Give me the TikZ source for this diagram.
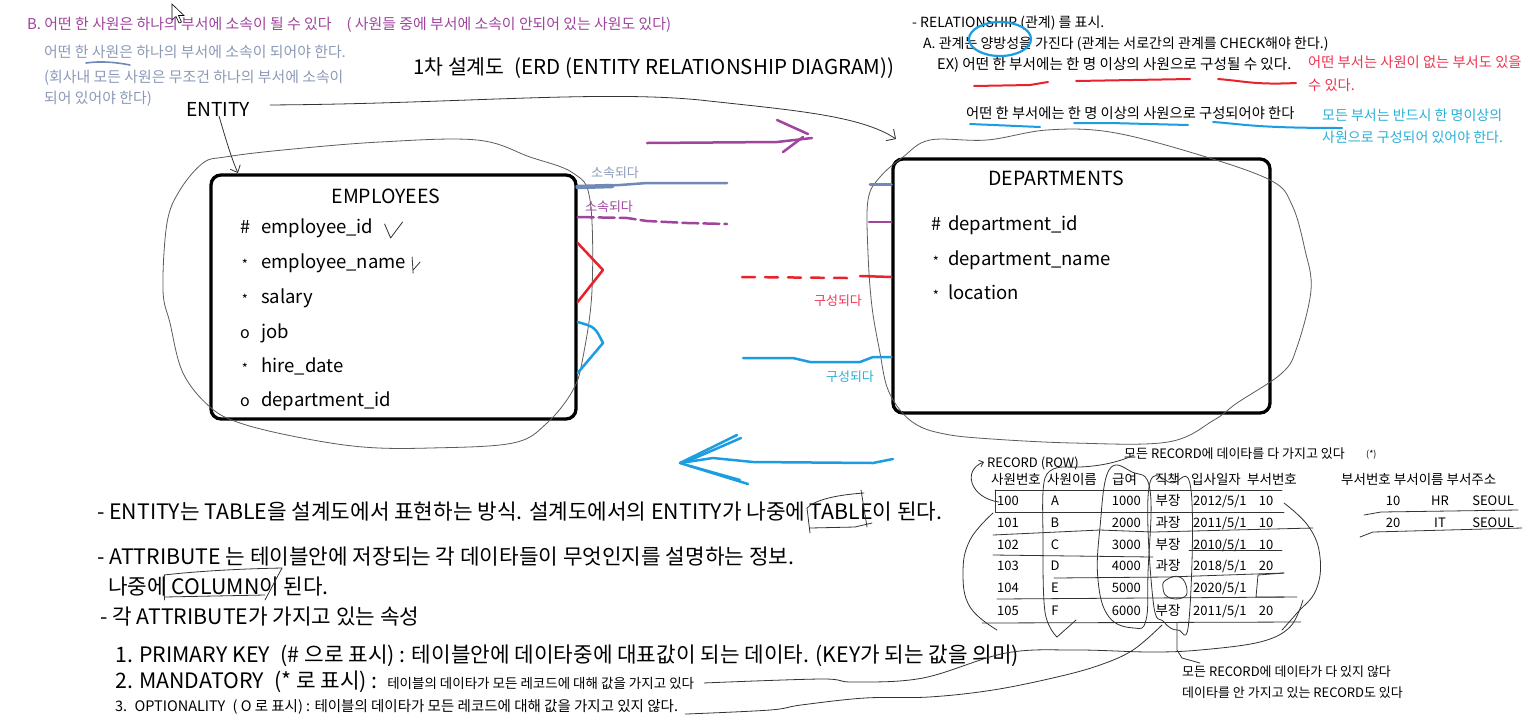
\documentclass[tikz,border=0pt]{standalone}
\usepackage{fontspec}
\setmainfont{Noto Sans CJK KR}
\usepackage{tikz}
\usetikzlibrary{arrows.meta, positioning}

\definecolor{purp}{HTML}{A0449E}
\definecolor{steel}{HTML}{7089B6}
\definecolor{steeltxt}{HTML}{8C9AB8}
\definecolor{redpen}{HTML}{E8232B}
\definecolor{redtxt}{HTML}{F03450}
\definecolor{bluepen}{HTML}{1B9DE2}
\definecolor{cyantxt}{HTML}{2AB0D6}
\definecolor{ink}{HTML}{333333}

\newcommand\fsz[1]{\fontsize{#1}{#1}\selectfont}
\newcommand\attrPK{\fsz{18}\#}
\newcommand\attrMand{\raisebox{-1.5pt}{\fsz{13}*}}
\newcommand\attrOpt{\fsz{16}o}

\begin{document}
\begin{tikzpicture}[x=1pt, y=-1pt,
    txt/.style = {anchor=base west, inner sep=0pt, font=\fsz{#1}},
    mtxt/.style = {anchor=base, inner sep=0pt, font=\fsz{#1}},
    etxt/.style = {anchor=base east, inner sep=0pt, font=\fsz{#1}},
    entity box/.style = {draw=black, line width=3.3pt, rounded corners=10pt},
    hand/.style = {draw=ink, line width=0.8pt, line cap=round, line join=round},
    pen/.style = {line width=2.5pt, line cap=round, line join=round}
]
\fill[white] (0,0) rectangle (1533,724);
\useasboundingbox (0,0) rectangle (1533,724);

% mouse pointer
\draw[line width=0.6pt, fill=white] (172,4) -- (172,20) -- (176,16.5) -- (179,23) -- (181.5,22) -- (178.5,15.5) -- (184,15.5) -- cycle;

% notes, top left
\node[txt=14.9, text=purp] (noteB) at (27,29) {B. 어떤 한 사원은 하나의 부서에 소속이 될 수 있다\quad( 사원들 중에 부서에 소속이 안되어 있는 사원도 있다)};
\node[txt=14.9, text=steeltxt] (noteB1) at (44,57) {어떤 한 사원은 하나의 부서에 소속이 되어야 한다.};
\node[txt=14.9, text=steeltxt] (noteB2) at (44,82) {(회사내 모든 사원은 무조건 하나의 부서에 소속이};
\node[txt=14.9, text=steeltxt] (noteB3) at (44,103) {되어 있어야 한다)};
\draw[steel, line width=1.6pt, line cap=round] (86,63) .. controls (100,61) and (115,62) .. (130,65);

% title
\node[txt=20.5] (title) at (413,74) {1차 설계도\enspace(ERD (ENTITY RELATIONSHIP DIAGRAM))};
\node[txt=19.2] (entity) at (186,116) {ENTITY};

% notes, top right
\node[txt=14] (relNote) at (912,27) {- RELATIONSHIP (관계) 를 표시.};
\node[txt=14] (relA) at (923,48) {A. 관계는 양방성을 가진다 (관계는 서로간의 관계를 CHECK해야 한다.)};
\node[txt=14.6] (relEx) at (937,69) {EX) 어떤 한 부서에는 한 명 이상의 사원으로 구성될 수 있다.};
\node[txt=14.3, text=redtxt] (redNote1) at (1308,67) {어떤 부서는 사원이 없는 부서도 있을};
\node[txt=14.3, text=redtxt] (redNote2) at (1308,90) {수 있다.};
\node[txt=14.3] (relMust) at (966,118) {어떤 한 부서에는 한 명 이상의 사원으로 구성되어야 한다};
\node[txt=14, text=cyantxt] (cyNote1) at (1322,120) {모든 부서는 반드시 한 명이상의};
\node[txt=14, text=cyantxt] (cyNote2) at (1322,142) {사원으로 구성되어 있어야 한다.};
\draw[bluepen, line width=2.2pt] (1000,39) ellipse [x radius=31pt, y radius=17pt];
\draw[pen, redpen, line width=2pt] (974,86) -- (1030,85) -- (1048,82);
\draw[pen, redpen, line width=2pt] (1076,81) -- (1190,79);
\draw[pen, redpen, line width=2pt] (1218,79) .. controls (1244,81) and (1254,85) .. (1296,83);
\draw[pen, bluepen, line width=2pt] (970,124) -- (1040,127);
\draw[pen, bluepen, line width=2pt] (1074,123) -- (1110,123) -- (1188,125);
\draw[pen, bluepen, line width=2pt] (1213,122) .. controls (1243,124) and (1253,128) .. (1342,128);

% entities
\node[entity box, minimum width=365pt, minimum height=244pt] (emp) at (393.5,297) {};
\node[mtxt=19.5] (empName) at (386,203) {EMPLOYEES};
\foreach \sym/\nm/\yy [count=\k] in {\attrPK/employee\_id/233, \attrMand/employee\_name/268,
    \attrMand/salary/303, \attrOpt/job/338, \attrMand/hire\_date/372, \attrOpt/department\_id/406}{
  \node[mtxt=18] (empSym\k) at (245,\yy) {\sym};
  \node[txt=18.5] (empAttr\k) at (261,\yy) {\nm};
}
\draw[hand] ([shift={(11,-9)}]empAttr1.base east) -- ([shift={(17,5)}]empAttr1.base east) -- ([shift={(29,-11)}]empAttr1.base east);
\draw[hand] ([shift={(6,-11)}]empAttr2.base east) -- ([shift={(7,5)}]empAttr2.base east);
\draw[hand] ([shift={(7,2)}]empAttr2.base east) -- ([shift={(14,-6)}]empAttr2.base east);

\node[entity box, minimum width=377pt, minimum height=254pt] (dept) at (1081.5,286) {};
\node[mtxt=19.5] (deptName) at (1056,185) {DEPARTMENTS};
\foreach \sym/\nm/\yy [count=\k] in {\attrPK/department\_id/230, \attrMand/department\_name/265,
    \attrMand/location/299}{
  \node[mtxt=18] (deptSym\k) at (936,\yy) {\sym};
  \node[txt=18.5] (deptAttr\k) at (948,\yy) {\nm};
}

% outlines drawn round the entities
\draw[hand, draw=ink!80] plot[smooth cycle, tension=0.6] coordinates {(225,157) (283,150) (380,142) (477,140)
  (530,157) (573,173) (590,200) (592,290) (583,357) (573,390) (547,423) (513,443) (430,448) (363,447)
  (297,437) (240,423) (210,407) (183,373) (170,323) (163,290) (167,223) (180,190) (203,163)};
\draw[hand, draw=ink!80] plot[smooth cycle, tension=0.6] coordinates {(903,157) (930,140) (987,140) (1047,130)
  (1110,132) (1193,153) (1270,180) (1292,205) (1305,250) (1311,290) (1297,347) (1282,373) (1237,403)
  (1214,420) (1168,442) (1073,443) (978,438) (940,433) (917,425) (900,410) (887,387) (880,353)
  (872,307) (868,253) (868,200) (880,177)};

% ENTITY pointers
\draw[hand, -{Straight Barb[length=6pt, width=11pt]}] ([xshift=1pt]entity.south) .. controls (226,140) and (232,160) .. (238,173);
\draw[hand, -{Straight Barb[length=7pt, width=14pt]}] ([xshift=20pt, yshift=4pt]entity.east)
  .. controls (450,104) and (600,90) .. (700,100) .. controls (790,110) and (860,115) .. (896,139);

% relationship marks
\coordinate (steelEnd) at (727,183);
\draw[pen, steel] ([yshift=110pt]emp.east) -- (620,185) -- (647,183) -- (steelEnd);
\draw[steel, line width=4.5pt, line cap=round] ([yshift=110pt]emp.east) -- (612,186);
\draw[pen, steel, line width=3pt] (870,184) -- ([yshift=102pt]dept.west);
\node[mtxt=13, text=steeltxt] (belong1) at (615,177) {소속되다};

\coordinate (purpEnd) at (727,224);
\draw[pen, purp, dash pattern=on 16pt off 5pt] ([yshift=80pt]emp.east) -- (627,218) -- (647,221) -- (687,223) -- (purpEnd);
\draw[pen, purp] (869,222) -- ([yshift=64pt]dept.west);
\node[mtxt=13, text=purp] (belong2) at (609,211) {소속되다};

\draw[pen, redpen] ([yshift=54pt]emp.east) -- (603,270) -- ([yshift=-5pt]emp.east);
\draw[pen, redpen, dash pattern=on 13pt off 10pt] (742,277) -- (847,278);
\draw[pen, redpen] (860,276) -- ([yshift=9pt]dept.west);
\node[mtxt=13, text=redtxt] (consist1) at (838,305) {구성되다};

\draw[pen, bluepen] ([yshift=-25pt]emp.east) .. controls (595,327) .. (603,343) -- ([yshift=-76pt]emp.east);
\draw[pen, bluepen] (743,358) -- (793,358) -- (810,362) -- (860,362) -- (873,357) -- ([yshift=-71pt]dept.west);
\node[mtxt=13, text=cyantxt] (consist2) at (850,381) {구성되다};

% direction arrows
\coordinate (purpTip) at (812,138);
\draw[pen, purp] (647,143) -- (777,142) -- (purpTip);
\draw[pen, purp] (777,120) -- (808,134);
\draw[pen, purp] (783,152) -- (803,137);
\coordinate (blueTip) at (680,463);
\draw[pen, bluepen] (893,459) -- (873,463) -- (753,462) -- (713,458) -- (blueTip);
\draw[pen, bluepen] (blueTip) -- (737,435);
\draw[pen, bluepen] (688,461) -- (741,438);
\draw[pen, bluepen] (blueTip) -- (748,484);
\draw[pen, bluepen] (690,466) -- (740,480);

% record table
\node[txt=13] (allData) at (1124,458) {모든 RECORD에 데이타를 다 가지고 있다};
\node[txt=9] (allMark) at (1366,457) {(*)};
\node[txt=13] (recRow) at (987,467) {RECORD (ROW)};
\foreach \h/\xx [count=\k] in {사원번호/991, 사원이름/1047, 급여/1112, 직책/1155, 입사일자/1191, 부서번호/1247}{
  \node[txt=13.5] (head\k) at (\xx,484) {\h};
}
\foreach \id/\nm/\sal/\job/\dt/\dn/\yy [count=\k] in {100/A/1000/부장/{2012/5/1}/10/505,
    101/B/2000/과장/{2011/5/1}/10/527, 102/C/3000/부장/{2010/5/1}/10/549,
    103/D/4000/과장/{2018/5/1}/20/570, 104/E/5000/{}/{2020/5/1}/{}/592, 105/F/6000/부장/{2011/5/1}/20/615}{
  \node[txt=13] (rId\k) at (997,\yy) {\id};
  \node[mtxt=13] (rNm\k) at (1055,\yy) {\nm};
  \node[etxt=13] (rSal\k) at (1141,\yy) {\sal};
  \node[mtxt=13.5] (rJob\k) at (1168,\yy) {\job};
  \node[txt=13] (rDt\k) at (1193,\yy) {\dt};
  \node[mtxt=13] (rDn\k) at (1266,\yy) {\dn};
}
\node[txt=13.5] (dHead) at (1341,484) {부서번호 부서이름 부서주소};
\foreach \no/\nm/\yy [count=\k] in {10/HR/505, 20/IT/527}{
  \node[mtxt=13] (dNo\k) at (1393,\yy) {\no};
  \node[mtxt=13] (dNm\k) at (1440,\yy) {\nm};
  \node[etxt=13] (dAd\k) at (1514,\yy) {SEOUL};
}
\draw[hand] (1364,515) -- (1381,512) -- (1518,510);
\draw[hand] (1360,537) -- (1373,532) -- (1522,528);

% marks on the table
\draw[hand, -{Straight Barb[length=4pt, width=7pt]}] (999,502) .. controls (970,498) and (962,470) .. (984,462);
\draw[hand] (995,490) -- (1282,490);
\draw[hand] (995,490) -- (995,512) -- (1284,512);
\draw[hand] (993,535) -- (1100,530) -- (1153,532) -- (1313,528);
\draw[hand] (993,555) -- (1153,557);
\draw[hand] (1189,550) -- (1282,550);
\draw[hand] (1054,578) -- (1168,577) -- (1284,573);
\draw[hand] (997,599) -- (1297,597);
\draw[hand] (982,623) -- (1301,622);
\draw[hand] plot[smooth, tension=0.6] coordinates {(1065,467) (1045,478) (1043,540) (1045,612) (1057,637)};
\draw[hand] (1057,637) -- (1076,620);
\draw[hand] plot[smooth cycle, tension=0.7] coordinates {(1109,470) (1100,527) (1098,580) (1109,617) (1134,628)
  (1146,620) (1148,573) (1150,490) (1132,472)};
\draw[hand] plot[smooth cycle, tension=0.7] coordinates {(1149,487) (1153,600) (1164,622) (1178,630) (1189,620)
  (1191,490) (1172,483)};
\draw[hand] plot[smooth cycle, tension=0.8] coordinates {(1166,580) (1180,577) (1187,590) (1182,598) (1168,597) (1163,588)};
\draw[hand] (1284,573) -- (1258,575) -- (1256,597) -- (1284,597);
\draw[hand] (1134,455) .. controls (1115,464) and (1090,468) .. (1065,467);
\draw[hand] plot[smooth, tension=0.7] coordinates {(993,513) (970,540) (963,573) (970,607) (997,630)};
\draw[hand] plot[smooth, tension=0.7] coordinates {(1284,503) (1309,527) (1320,557) (1316,590) (1297,613) (1282,630)};

% text below
\node[txt=21.3] (entityDef) at (97,519) {- ENTITY는 TABLE을 설계도에서 표현하는 방식. 설계도에서의 ENTITY가 나중에 TABLE이 된다.};
\node[txt=21.3] (attrDef) at (97,564) {- ATTRIBUTE 는 테이블안에 저장되는 각 데이타들이 무엇인지를 설명하는 정보.};
\node[txt=21.3] (attrDef2) at (108,594) {나중에 COLUMN이 된다.};
\node[txt=21.3] (attrKind) at (100,624) {- 각 ATTRIBUTE가 가지고 있는 속성};
\node[txt=21.3] (pkDef) at (115,662) {1. PRIMARY KEY\enspace(\# 으로 표시) : 테이블안에 데이타중에 대표값이 되는 데이타. (KEY가 되는 값을 의미)};
\node[txt=21.3] (mandDef) at (115,688) {2. MANDATORY\enspace(* 로 표시) :};
\node[txt=13.5] (mandNote) at ([xshift=9pt]mandDef.base east) {테이블의 데이타가 모든 레코드에 대해 값을 가지고 있다};
\node[txt=14.5] (optDef) at (115,711) {3.\enspace OPTIONALITY\enspace( O 로 표시) : 테이블의 데이타가 모든 레코드에 대해 값을 가지고 있지 않다.};
\node[txt=13] (notAll1) at (1182,676) {모든 RECORD에 데이타가 다 있지 않다};
\node[txt=13] (notAll2) at (1182,697) {데이타를 안 가지고 있는 RECORD도 있다};

% boxes round words
\draw[hand] (807,508) -- (810,533);
\draw[hand] (807,508) .. controls (815,500) and (835,495) .. (864,493);
\draw[hand] (861,490) -- (867,527);
\draw[hand] (810,528) -- (855,527) -- (872,523);
\draw[hand] (164,575) -- (164,600);
\draw[hand] (164,575) .. controls (190,572) and (230,569) .. (282,568);
\draw[hand] (282,568) -- (265,600);
\draw[hand] (164,597) -- (265,595);

% lines from the notes
\coordinate (mandEnd) at ([xshift=10pt]mandNote.east);
\draw[hand] plot[smooth, tension=0.6] coordinates {(mandEnd) (821,679) (853,682) (923,678) (1006,653) (1076,650)
  (1150,652) (1200,650) (1260,642) (1290,627) (1303,600)};
\coordinate (optEnd) at ([xshift=7pt]optDef.south east);
\draw[hand] plot[smooth, tension=0.6] coordinates {(optEnd) (770,710) (801,705) (865,698) (929,697) (993,690)
  (1057,677) (1100,665) (1133,650) (1162,625)};
\draw[hand] (1177,623) -- (1177,650) -- (1182,658) -- (1200,663);
\end{tikzpicture}
\end{document}
